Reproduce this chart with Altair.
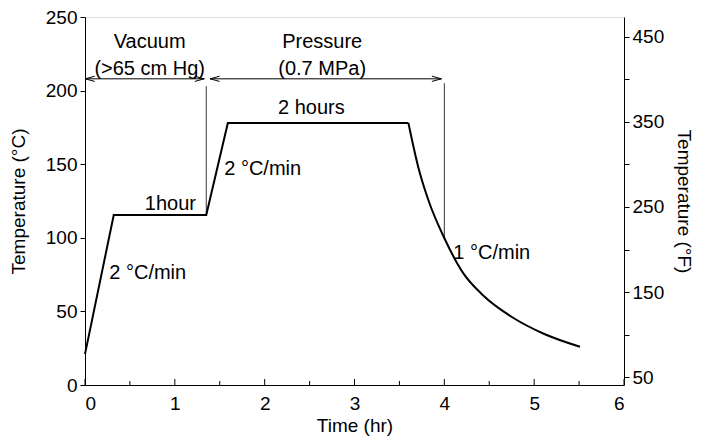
import altair as alt
import pandas as pd

# heating / hold part of the cure cycle (straight segments)
heat_time = [0, 0.32, 1.35, 1.59, 3.6]
heat_temp = [21, 115.5, 115.5, 178, 178]

# cooling part (smooth curve)
cool_time = [3.6, 3.71, 3.82, 4.01, 4.21, 4.43, 4.77, 5.10, 5.51]
cool_temp = [178, 148, 126, 98.5, 76, 61, 45.5, 35, 26]

# phase boundaries (vertical thin lines)
vline_x = [1.35, 4.0]
vline_top = [203, 205]
vline_bottom = [115.5, 99]

# double arrows
arrow_x1 = [0.0, 1.39]
arrow_x2 = [1.33, 3.97]
arrow_y = [208, 208]

# annotations
ann_text = ["Vacuum", "(>65 cm Hg)", "Pressure", "(0.7 MPa)", "2 hours", "1hour"]
ann_x = [0.72, 0.72, 2.64, 2.64, 2.52, 0.95]
ann_y = [233, 215, 233, 215, 188, 123]

rate_text = ["2 °C/min", "2 °C/min", "1 °C/min"]
rate_x = [0.27, 1.55, 4.1]
rate_y = [76, 147, 90]

x_ticks = [0, 1, 2, 3, 4, 5, 6]
x_minor = [0.5, 1.5, 2.5, 3.5, 4.5, 5.5]
y_ticks = [0, 50, 100, 150, 200, 250]
f_ticks = [50, 100, 150, 200, 250, 300, 350, 400, 450]
f_domain = [41, 473]

FONT = "Liberation Sans"
FS = 20      # annotations
AFS = 19     # axis labels and titles

W, H = 539, 368

xs = alt.Scale(domain=[0, 6], nice=False)
ys = alt.Scale(domain=[0, 250], nice=False)

heat_df = pd.DataFrame({"t": heat_time, "T": heat_temp})
cool_df = pd.DataFrame({"t": cool_time, "T": cool_temp})
vdf = pd.DataFrame({"x": vline_x, "y1": vline_bottom, "y2": vline_top})
adf = pd.DataFrame({"x1": arrow_x1, "x2": arrow_x2, "y": arrow_y})
ann_df = pd.DataFrame({"text": ann_text, "x": ann_x, "y": ann_y})
rate_df = pd.DataFrame({"text": rate_text, "x": rate_x, "y": rate_y})
major_df = pd.DataFrame({"x": x_ticks})
minor_df = pd.DataFrame({"x": x_minor})
fdf = pd.DataFrame({"F": f_domain})

axis_common = dict(grid=False, domainColor="black", tickColor="black",
                   labelColor="black", titleColor="black", labelFont=FONT,
                   titleFont=FONT, labelFontSize=AFS, titleFontSize=AFS,
                   titleFontWeight="normal")

heat = alt.Chart(heat_df).mark_line(color="black", strokeWidth=2).encode(
    x=alt.X("t:Q", scale=xs, title="Time (hr)",
            axis=alt.Axis(values=x_ticks, format="d", tickSize=0, labelPadding=9,
                          titlePadding=3, **axis_common)),
    y=alt.Y("T:Q", scale=ys, title="Temperature (°C)",
            axis=alt.Axis(values=y_ticks, tickSize=5, labelPadding=3,
                          titlePadding=17, **axis_common)),
)
cool = alt.Chart(cool_df).mark_line(color="black", strokeWidth=2,
                                    interpolate="monotone").encode(
    x=alt.X("t:Q", scale=xs), y=alt.Y("T:Q", scale=ys)
)

vlines = alt.Chart(vdf).mark_rule(color="black", strokeWidth=0.8).encode(
    x=alt.X("x:Q", scale=xs), y=alt.Y("y1:Q", scale=ys), y2="y2:Q"
)

arrows = alt.Chart(adf).mark_rule(color="black", strokeWidth=1).encode(
    x=alt.X("x1:Q", scale=xs), x2="x2:Q", y=alt.Y("y:Q", scale=ys)
)
left_heads = alt.Chart(adf).mark_point(
    shape="M 1 -0.55 L -1 0 L 1 0.55", filled=False, color="black",
    strokeWidth=1, size=90, opacity=1
).encode(x=alt.X("x1:Q", scale=xs), y=alt.Y("y:Q", scale=ys), xOffset=alt.value(5))
right_heads = alt.Chart(adf).mark_point(
    shape="M -1 -0.55 L 1 0 L -1 0.55", filled=False, color="black",
    strokeWidth=1, size=90, opacity=1
).encode(x=alt.X("x2:Q", scale=xs), y=alt.Y("y:Q", scale=ys), xOffset=alt.value(-5))

ann = alt.Chart(ann_df).mark_text(font=FONT, fontSize=FS, color="black",
                                  align="center", baseline="middle").encode(
    x=alt.X("x:Q", scale=xs), y=alt.Y("y:Q", scale=ys), text="text:N"
)
rates = alt.Chart(rate_df).mark_text(font=FONT, fontSize=FS, color="black",
                                     align="left", baseline="middle").encode(
    x=alt.X("x:Q", scale=xs), y=alt.Y("y:Q", scale=ys), text="text:N"
)

major_ticks = alt.Chart(major_df).mark_rule(color="black", strokeWidth=1).encode(
    x=alt.X("x:Q", scale=xs), y=alt.value(H - 6), y2=alt.value(H)
)
minor_ticks = alt.Chart(minor_df).mark_rule(color="black", strokeWidth=1).encode(
    x=alt.X("x:Q", scale=xs), y=alt.value(H - 4), y2=alt.value(H)
)

main = alt.layer(heat, cool, vlines, arrows, left_heads, right_heads, ann, rates,
                 major_ticks, minor_ticks)

right = alt.Chart(fdf).mark_point(opacity=0).encode(
    y=alt.Y("F:Q", scale=alt.Scale(domain=f_domain, nice=False),
            title="Temperature (°F)",
            axis=alt.Axis(orient="right", values=f_ticks, tickSize=5,
                          labelExpr="datum.value % 100 == 50 ? datum.label : ''",
                          labelPadding=3, titlePadding=10, **axis_common))
)

chart = alt.layer(main, right).resolve_scale(y="independent").properties(
    width=W, height=H,
    autosize=alt.AutoSizeParams(type="none"),
    padding={"left": 77, "top": 9, "right": 74, "bottom": 51},
).configure_view(stroke="black", strokeWidth=1).configure(background="white")

chart.save("out.html", embed_options={"renderer": "svg", "actions": False})
